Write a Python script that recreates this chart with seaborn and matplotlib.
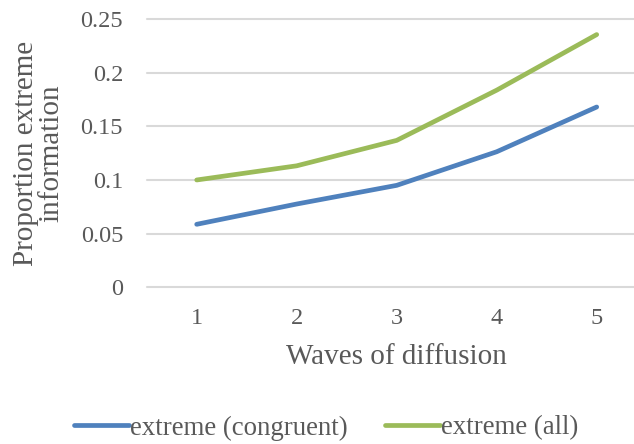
import matplotlib
matplotlib.use("Agg")
import matplotlib.pyplot as plt
from matplotlib.lines import Line2D
import seaborn as sns
import pandas as pd

# Data
waves = [1, 2, 3, 4, 5]
congruent = [0.0587, 0.0776, 0.0950, 0.1263, 0.1680]
all_extreme = [0.1000, 0.1132, 0.1369, 0.1837, 0.2355]
series_names = ["extreme (congruent)", "extreme (all)"]
y_ticks = [0, 0.05, 0.1, 0.15, 0.2, 0.25]
y_tick_labels = ["0", "0.05", "0.1", "0.15", "0.2", "0.25"]

df = pd.DataFrame({
    "wave": waves * 2,
    "value": congruent + all_extreme,
    "series": [series_names[0]] * len(waves) + [series_names[1]] * len(waves),
})

sns.set_theme(style="white")
plt.rcParams["font.family"] = ["Liberation Serif", "DejaVu Serif"]

W, H = 634, 444
fig = plt.figure(figsize=(W / 100, H / 100), dpi=100)
left_px, right_px, top_px, bottom_px = 146.7, 634, 19, 287.3
ax = fig.add_axes([left_px / W, 1 - bottom_px / H,
                   (right_px - left_px) / W, (bottom_px - top_px) / H])

palette = {series_names[0]: "#4f81bd", series_names[1]: "#9bbb59"}
sns.lineplot(data=df, x="wave", y="value", hue="series", palette=palette,
             linewidth=3.4, ax=ax, legend=False, solid_capstyle="round")

xmax = 0.5 + (right_px - left_px) / 100
ax.set_xlim(0.5, xmax)
ax.set_ylim(0, 0.25)
ax.set_xticks(waves)
ax.set_xticklabels([str(w) for w in waves])
ax.set_yticks(y_ticks)
ax.set_yticklabels(y_tick_labels)
ax.tick_params(axis="both", length=0, labelsize=17.5, labelcolor="#595959")
ax.tick_params(axis="y", pad=17)
ax.tick_params(axis="x", pad=15)

ax.yaxis.grid(True, color="#d9d9d9", linewidth=1.5)
ax.xaxis.grid(False)
for gl in ax.get_ygridlines():
    gl.set_clip_on(False)
for s in ax.spines.values():
    s.set_visible(False)
ax.set_axisbelow(True)
ax.set_xlabel("")
ax.set_ylabel("")

fig.text(39 / W, 1 - 153 / H, "Proportion extreme\ninformation", rotation=90,
         ha="center", va="center", multialignment="center",
         fontsize=21, color="#595959", linespacing=0.95)
fig.text(396.7 / W, 1 - 357 / H, "Waves of diffusion", ha="center", va="center",
         fontsize=21, color="#595959")

handles = [Line2D([0], [0], color=palette[n], linewidth=3.4, solid_capstyle="round")
           for n in series_names]
leg = fig.legend(handles, series_names, loc="center", bbox_to_anchor=(326 / W, 1 - 428 / H),
                 ncol=2, frameon=False, fontsize=19.4, handlelength=2.05,
                 handletextpad=0.02, columnspacing=1.4, borderpad=0, borderaxespad=0)
for t in leg.get_texts():
    t.set_color("#595959")

fig.savefig("out.png", dpi=100, facecolor="white")
